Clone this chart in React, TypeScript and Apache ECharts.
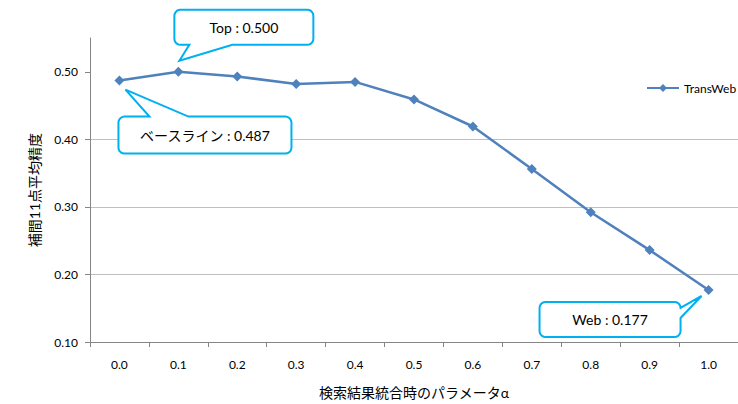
import React, { useEffect, useRef } from "react";
import * as echarts from "echarts";

const categories = ["0.0", "0.1", "0.2", "0.3", "0.4", "0.5", "0.6", "0.7", "0.8", "0.9", "1.0"];
const transWeb = [0.487, 0.5, 0.493, 0.482, 0.485, 0.459, 0.419, 0.356, 0.292, 0.236, 0.177];
const yTicks = [0.1, 0.2, 0.3, 0.4, 0.5];
const seriesName = "TransWeb";
const yAxisName = "補間11点平均精度";
const xAxisName = "検索結果統合時のパラメータα";
const callouts = [
  { idx: 0, label: "ベースライン" },
  { idx: 1, label: "Top" },
  { idx: 10, label: "Web" },
];

const FONT = "Lato, 'Noto Sans CJK JP', sans-serif";
const CYAN = "#00B0F0";

type Pt = [number, number];

function calloutPoints(
  x: number, y: number, w: number, h: number, r: number,
  side: "top" | "bottom" | "right", a: number, b: number, tip: Pt
): Pt[] {
  const pts: Pt[] = [];
  const arc = (cx: number, cy: number, a0: number, a1: number) => {
    const n = 5;
    for (let i = 0; i <= n; i++) {
      const t = ((a0 + ((a1 - a0) * i) / n) * Math.PI) / 180;
      pts.push([cx + r * Math.cos(t), cy + r * Math.sin(t)]);
    }
  };
  pts.push([x + r, y]);
  if (side === "top") { pts.push([x + a, y], tip, [x + b, y]); }
  pts.push([x + w - r, y]);
  arc(x + w - r, y + r, -90, 0);
  if (side === "right") { pts.push([x + w, y + a], tip, [x + w, y + b]); }
  pts.push([x + w, y + h - r]);
  arc(x + w - r, y + h - r, 0, 90);
  if (side === "bottom") { pts.push([x + b, y + h], tip, [x + a, y + h]); }
  pts.push([x + r, y + h]);
  arc(x + r, y + h - r, 90, 180);
  pts.push([x, y + r]);
  arc(x + r, y + r, 180, 270);
  return pts;
}

const calloutStyle: Record<number, { bx: number; by: number; w: number; h: number; side: "top" | "bottom" | "right"; a: number; b: number; tx: number; ty: number }> = {
  0: { bx: -1, by: 36, w: 173, h: 37, side: "top", a: 31, b: 70, tx: 6, ty: 9 },
  1: { bx: -4, by: -62, w: 139, h: 35, side: "bottom", a: 15, b: 58, tx: 1, ty: -11 },
  10: { bx: -169, by: 12, w: 141, h: 35, side: "right", a: 6, b: 16, tx: -7, ty: 6 },
};

export default function App() {
  const ref = useRef<HTMLDivElement>(null);
  useEffect(() => {
    if (!ref.current) return;
    const chart = echarts.init(ref.current, null, { renderer: "svg" });
    chart.setOption({
      animation: false,
      textStyle: { fontFamily: FONT },
      grid: { left: 90, right: -2, top: 38, bottom: 59, containLabel: false },
      legend: {
        left: 646,
        top: 82,
        padding: 0,
        itemWidth: 32,
        itemHeight: 10,
        itemGap: 4,
        textStyle: { fontSize: 12, color: "#000", fontFamily: FONT },
        data: [seriesName],
      },
      xAxis: {
        type: "category",
        data: categories,
        boundaryGap: true,
        name: xAxisName,
        nameLocation: "middle",
        nameGap: 43,
        nameMoveOverlap: false,
        nameTextStyle: { fontSize: 14, color: "#000", fontFamily: FONT },
        axisLine: { lineStyle: { color: "#868686", width: 1 } },
        axisTick: { show: true, alignWithLabel: false, length: 5, lineStyle: { color: "#868686" } },
        axisLabel: { fontSize: 12, color: "#000", margin: 16 },
        splitLine: { show: false },
      },
      yAxis: {
        type: "value",
        min: 0.1,
        max: 0.55,
        interval: 0.1,
        name: yAxisName,
        nameLocation: "middle",
        nameGap: 49,
        nameRotate: 90,
        nameMoveOverlap: false,
        nameTextStyle: { fontSize: 14, color: "#000", fontFamily: FONT },
        axisLine: { show: true, lineStyle: { color: "#868686", width: 1 } },
        axisTick: { show: true, length: 5, customValues: yTicks, lineStyle: { color: "#868686" } },
        axisLabel: {
          fontSize: 12,
          color: "#000",
          margin: 12,
          customValues: yTicks,
          formatter: (v: number) => v.toFixed(2),
        },
        splitLine: { show: true, showMaxLine: false, lineStyle: { color: "#BFBFBF", width: 1 } },
      },
      series: [
        {
          name: seriesName,
          type: "line",
          data: transWeb,
          symbol: "diamond",
          symbolSize: 10,
          itemStyle: { color: "#4F81BD" },
          lineStyle: { color: "#4F81BD", width: 2.5 },
        },
      ],
    });

    const graphics: any[] = [];
    callouts.forEach((c) => {
      const s = calloutStyle[c.idx];
      const p = chart.convertToPixel({ seriesIndex: 0 }, [c.idx, transWeb[c.idx]]) as number[];
      const bx = p[0] + s.bx;
      const by = p[1] + s.by;
      const tip: Pt = [p[0] + s.tx, p[1] + s.ty];
      graphics.push({
        type: "polygon",
        shape: { points: calloutPoints(bx, by, s.w, s.h, 6, s.side, s.a, s.b, tip) },
        style: { fill: "#fff", stroke: CYAN, lineWidth: 2 },
        z: 100,
      });
      graphics.push({
        type: "text",
        x: bx + s.w / 2,
        y: by + s.h / 2,
        style: {
          text: `${c.label} : ${transWeb[c.idx].toFixed(3)}`,
          fontSize: 14,
          fontFamily: FONT,
          fill: "#000",
          align: "center",
          verticalAlign: "middle",
        },
        z: 101,
      });
    });
    chart.setOption({ graphic: graphics });

    return () => chart.dispose();
  }, []);
  return (
    <div
      ref={ref}
      style={{ position: "fixed", left: 0, top: 0, width: 738, height: 404, background: "#fff" }}
    />
  );
}
